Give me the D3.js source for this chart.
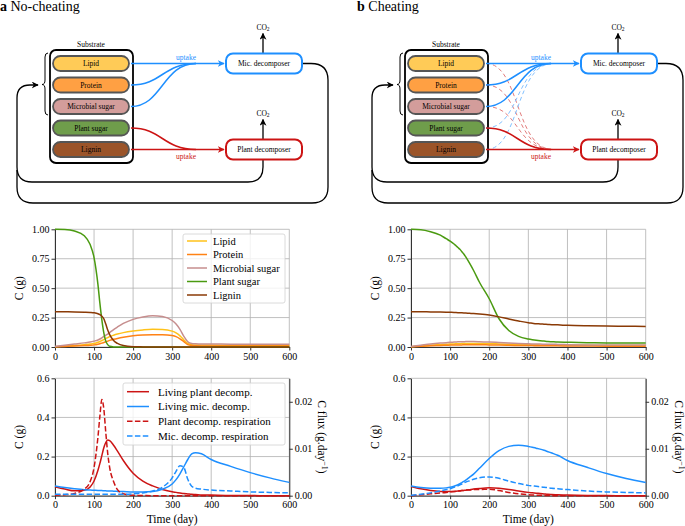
<!DOCTYPE html>
<html>
<head>
<meta charset="utf-8">
<script src="https://cdn.jsdelivr.net/npm/d3@7"></script>
<style>
  body { margin: 0; background: #fff; }
  svg { display: block; }
  text { font-family: "Liberation Serif", "DejaVu Serif", serif; }
</style>
</head>
<body>
<div id="chart"></div>
<script>
// ---- data ----
const days = [0, 25, 50, 75, 90, 100, 110, 115, 120, 125, 130, 135, 140, 150, 160, 175,
  200, 225, 250, 275, 300, 310, 320, 330, 340, 350, 360, 375, 400, 450, 500, 550, 600];

const substrateNames = ['Lipid', 'Protein', 'Microbial sugar', 'Plant sugar', 'Lignin'];
const substrateFills = ['#ffcb57', '#ffa043', '#d39d9b', '#6f9d4b', '#9b5429'];
const substrateLineColors = ['#ffc21a', '#ff8214', '#c68e8e', '#4a9a10', '#8a3a06'];

// panel a (no-cheating) substrate stocks, C (g)
const lipidA = [0.003, 0.008, 0.013, 0.020, 0.025, 0.030, 0.040, 0.047, 0.055, 0.063, 0.072, 0.080, 0.088, 0.100, 0.110, 0.122,
  0.136, 0.145, 0.150, 0.149, 0.135, 0.120, 0.095, 0.060, 0.030, 0.020, 0.017, 0.016, 0.016, 0.015, 0.015, 0.015, 0.015];
const proteinA = [0.002, 0.005, 0.008, 0.012, 0.015, 0.018, 0.024, 0.028, 0.033, 0.038, 0.044, 0.050, 0.056, 0.065, 0.073, 0.083,
  0.095, 0.102, 0.105, 0.105, 0.097, 0.088, 0.070, 0.045, 0.020, 0.012, 0.010, 0.009, 0.009, 0.008, 0.008, 0.008, 0.008];
const micSugarA = [0.005, 0.015, 0.025, 0.035, 0.042, 0.050, 0.060, 0.068, 0.078, 0.090, 0.100, 0.110, 0.122, 0.148, 0.170, 0.200,
  0.235, 0.255, 0.265, 0.260, 0.225, 0.195, 0.150, 0.090, 0.045, 0.030, 0.027, 0.025, 0.025, 0.024, 0.024, 0.024, 0.024];
const plantSugarA = [1.000, 0.998, 0.985, 0.945, 0.870, 0.760, 0.530, 0.370, 0.230, 0.120, 0.050, 0.020, 0.006, 0.001, 0, 0,
  0, 0, 0, 0, 0, 0, 0, 0, 0, 0, 0, 0, 0, 0, 0, 0, 0];
const ligninA = [0.300, 0.299, 0.298, 0.296, 0.294, 0.291, 0.283, 0.275, 0.262, 0.240, 0.195, 0.145, 0.105, 0.055, 0.030, 0.012,
  0.003, 0.001, 0, 0, 0, 0, 0, 0, 0, 0, 0, 0, 0, 0, 0, 0, 0];

// panel b (cheating) substrate stocks, C (g)
const lipidB = [0.003, 0.009, 0.015, 0.020, 0.023, 0.025, 0.026, 0.027, 0.028, 0.028, 0.029, 0.029, 0.030, 0.030, 0.030, 0.029,
  0.028, 0.026, 0.024, 0.022, 0.020, 0.019, 0.019, 0.018, 0.018, 0.017, 0.017, 0.016, 0.015, 0.014, 0.013, 0.012, 0.012];
const proteinB = [0.002, 0.006, 0.010, 0.013, 0.015, 0.016, 0.017, 0.017, 0.018, 0.018, 0.018, 0.019, 0.019, 0.019, 0.019, 0.019,
  0.018, 0.017, 0.015, 0.013, 0.012, 0.012, 0.011, 0.011, 0.011, 0.010, 0.010, 0.010, 0.009, 0.008, 0.007, 0.007, 0.006];
const micSugarB = [0.005, 0.015, 0.025, 0.033, 0.037, 0.040, 0.042, 0.043, 0.044, 0.044, 0.045, 0.045, 0.046, 0.046, 0.046, 0.045,
  0.042, 0.038, 0.034, 0.030, 0.027, 0.026, 0.025, 0.025, 0.024, 0.023, 0.023, 0.022, 0.020, 0.018, 0.017, 0.016, 0.016];
const plantSugarB = [1.000, 0.997, 0.980, 0.950, 0.920, 0.900, 0.875, 0.860, 0.845, 0.830, 0.810, 0.790, 0.765, 0.710, 0.650, 0.550,
  0.410, 0.240, 0.140, 0.090, 0.068, 0.062, 0.057, 0.053, 0.050, 0.047, 0.045, 0.042, 0.040, 0.037, 0.035, 0.034, 0.033];
const ligninB = [0.300, 0.300, 0.298, 0.297, 0.296, 0.295, 0.294, 0.293, 0.292, 0.291, 0.290, 0.289, 0.288, 0.286, 0.284, 0.280,
  0.271, 0.256, 0.238, 0.221, 0.206, 0.202, 0.198, 0.196, 0.194, 0.192, 0.190, 0.188, 0.184, 0.180, 0.178, 0.176, 0.175];

// decomposers: living biomass C (g) on left axis, respiration C flux (g/day) on right axis
const livingPlantA = [0.046, 0.034, 0.025, 0.028, 0.045, 0.075, 0.130, 0.165, 0.205, 0.245, 0.272, 0.285, 0.282, 0.258, 0.228, 0.180,
  0.115, 0.075, 0.050, 0.032, 0.020, 0.017, 0.014, 0.011, 0.009, 0.007, 0.006, 0.004, 0.003, 0.001, 0.0005, 0.0002, 0];
const livingMicA = [0.050, 0.042, 0.036, 0.031, 0.029, 0.028, 0.027, 0.026, 0.026, 0.025, 0.025, 0.024, 0.024, 0.023, 0.022, 0.021,
  0.019, 0.019, 0.021, 0.033, 0.060, 0.082, 0.112, 0.148, 0.185, 0.214, 0.220, 0.214, 0.185, 0.150, 0.118, 0.091, 0.068];
const plantRespA = [0.0001, 0.0002, 0.0005, 0.0014, 0.0030, 0.0060, 0.0125, 0.0170, 0.0205, 0.0185, 0.0135, 0.0090, 0.0060, 0.0030, 0.0013, 0.0004,
  0.0001, 0.00005, 0, 0, 0, 0, 0, 0, 0, 0, 0, 0, 0, 0, 0, 0, 0];
const micRespA = [0.0003, 0.0003, 0.0003, 0.0003, 0.0003, 0.0003, 0.0003, 0.0003, 0.0003, 0.0003, 0.0003, 0.0003, 0.0003, 0.0003, 0.0003, 0.0003,
  0.0004, 0.0006, 0.0010, 0.0018, 0.0038, 0.0052, 0.0064, 0.0060, 0.0035, 0.0020, 0.0016, 0.0014, 0.0012, 0.0010, 0.0008, 0.0007, 0.0006];

const livingPlantB = [0.047, 0.035, 0.027, 0.022, 0.021, 0.021, 0.022, 0.023, 0.024, 0.025, 0.026, 0.027, 0.028, 0.031, 0.034, 0.037,
  0.040, 0.038, 0.032, 0.024, 0.017, 0.015, 0.013, 0.011, 0.009, 0.007, 0.006, 0.005, 0.003, 0.001, 0.0005, 0.0002, 0];
const livingMicB = [0.050, 0.042, 0.038, 0.038, 0.040, 0.043, 0.048, 0.052, 0.056, 0.061, 0.067, 0.073, 0.080, 0.095, 0.110, 0.140,
  0.190, 0.230, 0.252, 0.258, 0.252, 0.248, 0.243, 0.238, 0.232, 0.225, 0.218, 0.207, 0.180, 0.145, 0.113, 0.088, 0.068];
const plantRespB = [0, 0.0002, 0.0004, 0.0006, 0.0007, 0.0008, 0.0009, 0.0009, 0.0010, 0.0010, 0.0011, 0.0011, 0.0012, 0.0012, 0.0013, 0.0013,
  0.0014, 0.0011, 0.0007, 0.0004, 0.0002, 0.00015, 0.0001, 0.0001, 0.00005, 0.00005, 0, 0, 0, 0, 0, 0, 0];
const micRespB = [0.0001, 0.0003, 0.0006, 0.0010, 0.0013, 0.0015, 0.0018, 0.0019, 0.0021, 0.0023, 0.0025, 0.0027, 0.0029, 0.0032, 0.0035, 0.0038,
  0.0040, 0.0037, 0.0031, 0.0026, 0.0022, 0.0021, 0.0020, 0.0019, 0.0018, 0.0017, 0.0016, 0.0015, 0.0013, 0.0010, 0.0008, 0.0007, 0.0006];

const decompNames = ['Living plant decomp.', 'Living mic. decomp.', 'Plant decomp. respiration', 'Mic. decomp. respiration'];

const dayTicks = [0, 100, 200, 300, 400, 500, 600];
const stockTicks = [0, 0.25, 0.5, 0.75, 1.0];
const biomassTicks = [0, 0.2, 0.4, 0.6];
const fluxTicks = [0, 0.01, 0.02];

// ---- setup ----
const RED = '#cc1414';
const BLUE = '#1e8fff';
const FONT = '"Liberation Serif", "DejaVu Serif", serif';

const svg = d3.select('#chart').append('svg')
  .attr('width', 685)
  .attr('height', 526);

const defs = svg.append('defs');
function marker(id, color) {
  defs.append('marker')
    .attr('id', id)
    .attr('viewBox', '0 0 10 10')
    .attr('refX', 9).attr('refY', 5)
    .attr('markerWidth', 7).attr('markerHeight', 7)
    .attr('markerUnits', 'userSpaceOnUse')
    .attr('orient', 'auto')
    .append('path')
    .attr('d', 'M0,0 L10,5 L0,10 L3,5 Z')
    .attr('fill', color);
}
marker('arrBlue', BLUE);
marker('arrRed', RED);
marker('arrBlack', '#000');

const panels = [
  { dx: 0, left: 55, right: 289.3, letter: 'a', name: 'No-cheating', cheating: false,
    stocks: [lipidA, proteinA, micSugarA, plantSugarA, ligninA],
    decomp: [livingPlantA, livingMicA, plantRespA, micRespA], legend: true },
  { dx: 355, left: 411, right: 645.7, letter: 'b', name: 'Cheating', cheating: true,
    stocks: [lipidB, proteinB, micSugarB, plantSugarB, ligninB],
    decomp: [livingPlantB, livingMicB, plantRespB, micRespB], legend: false }
];

// ---- diagram ----
function drawDiagram(p) {
  const g = svg.append('g').attr('transform', `translate(${p.dx},0)`);

  // title
  const titleX = p.dx === 0 ? 0 : 2;
  g.append('text')
    .attr('x', titleX).attr('y', 11)
    .attr('font-size', 14)
    .call(t => t.append('tspan').attr('font-weight', 'bold').text(p.letter))
    .call(t => t.append('tspan').text(' ' + p.name));

  // feedback loops
  const loop = g.append('g').attr('fill', 'none').attr('stroke', '#000').attr('stroke-width', 1.3);
  loop.append('path')
    .attr('d', 'M302,63.5 H311 Q328,63.5 328,80 V187 Q328,203 312,203 H33 Q17,203 17,187 V170');
  loop.append('path')
    .attr('d', 'M263,159.5 V167 Q263,182 248,182 H32 Q17,182 17,167 V98 Q17,85 30,85 H38')
    .attr('marker-end', 'url(#arrBlack)');

  // brace
  g.append('path')
    .attr('d', 'M48,53 Q45,53 45,57 V80 Q45,84.5 42,84.5 Q45,84.5 45,89 V111 Q45,115 48,115')
    .attr('fill', 'none').attr('stroke', '#000').attr('stroke-width', 1);

  // substrate box
  g.append('rect')
    .attr('x', 50).attr('y', 50).attr('width', 83).attr('height', 113).attr('rx', 6)
    .attr('fill', '#fff').attr('stroke', '#000').attr('stroke-width', 1.8);
  g.append('text').attr('x', 91).attr('y', 47).attr('text-anchor', 'middle')
    .attr('font-size', 7.5).text('Substrate');

  const rowY = d3.scalePoint().domain(substrateNames).range([63.5, 149.5]);

  // cheating cross-uptake (dashed, faint)
  if (p.cheating) {
    const cross = g.append('g').attr('fill', 'none').attr('stroke-width', 1)
      .attr('stroke-dasharray', '4,3').attr('opacity', 0.55);
    substrateNames.forEach((s, i) => {
      const y0 = rowY(s);
      const toPlant = i < 3;
      const y1 = toPlant ? rowY('Lignin') : rowY('Lipid');
      cross.append('path')
        .attr('d', `M131,${y0} C165,${y0} 160,${y1} 198,${y1}`)
        .attr('stroke', toPlant ? RED : BLUE);
    });
  }

  // uptake curves
  const up = g.append('g').attr('fill', 'none').attr('stroke-width', 1.5);
  substrateNames.forEach((s, i) => {
    const y0 = rowY(s);
    const mic = i < 3;
    const y1 = mic ? rowY('Lipid') : rowY('Lignin');
    if (y0 === y1) {
      up.append('path').attr('d', `M131,${y0} H224`)
        .attr('stroke', mic ? BLUE : RED)
        .attr('marker-end', mic ? 'url(#arrBlue)' : 'url(#arrRed)');
    } else {
      up.append('path').attr('d', `M131,${y0} C162,${y0} 163,${y1} 196,${y1}`)
        .attr('stroke', mic ? BLUE : RED);
    }
  });
  g.append('text').attr('x', 186).attr('y', 59.5).attr('text-anchor', 'middle')
    .attr('font-size', 7.5).attr('fill', BLUE).text('uptake');
  g.append('text').attr('x', 186).attr('y', 159).attr('text-anchor', 'middle')
    .attr('font-size', 7.5).attr('fill', RED).text('uptake');

  // substrate pills
  const pill = g.append('g').selectAll('g').data(substrateNames).join('g')
    .attr('transform', d => `translate(53,${rowY(d) - 7.5})`);
  pill.append('rect')
    .attr('width', 76).attr('height', 15).attr('rx', 7.5)
    .attr('fill', (d, i) => substrateFills[i])
    .attr('stroke', '#555').attr('stroke-width', 1.8);
  pill.append('text')
    .attr('x', 38).attr('y', 10.3).attr('text-anchor', 'middle')
    .attr('font-size', 7.5).text(d => d);

  // decomposer boxes
  const boxes = [
    { label: 'Mic. decomposer', y: 53.5, color: BLUE },
    { label: 'Plant decomposer', y: 139.5, color: RED }
  ];
  boxes.forEach(b => {
    g.append('line').attr('x1', 263).attr('x2', 263).attr('y1', b.y).attr('y2', b.y - 20)
      .attr('stroke', '#000').attr('stroke-width', 1.3).attr('marker-end', 'url(#arrBlack)');
    g.append('text').attr('x', 263).attr('y', b.y - 24).attr('text-anchor', 'middle')
      .attr('font-size', 7.5)
      .call(t => t.append('tspan').text('CO'))
      .call(t => t.append('tspan').attr('font-size', 5.5).attr('dy', 1.5).text('2'));
    g.append('rect')
      .attr('x', 226).attr('y', b.y).attr('width', 76).attr('height', 20).attr('rx', 7)
      .attr('fill', '#fff').attr('stroke', b.color).attr('stroke-width', 2);
    g.append('text').attr('x', 264).attr('y', b.y + 12.8).attr('text-anchor', 'middle')
      .attr('font-size', 7.5).text(b.label);
  });
}

// ---- axis helpers ----
function styleAxis(a) {
  a.attr('font-family', FONT).attr('font-size', 10);
  a.selectAll('.domain').attr('stroke', '#333');
  a.selectAll('.tick line').attr('stroke', '#333');
  a.selectAll('.tick text').attr('fill', '#000');
}

function grid(g, x, y, yTicks) {
  const gg = g.append('g').attr('stroke', '#b0b0b0').attr('stroke-width', 0.8);
  gg.selectAll('.gx').data(dayTicks).join('line')
    .attr('x1', d => x(d)).attr('x2', d => x(d))
    .attr('y1', y.range()[0]).attr('y2', y.range()[1]);
  gg.selectAll('.gy').data(yTicks).join('line')
    .attr('y1', d => y(d)).attr('y2', d => y(d))
    .attr('x1', x.range()[0]).attr('x2', x.range()[1]);
}

// ---- substrate stock chart ----
function drawStocks(p) {
  const x = d3.scaleLinear().domain([0, 600]).range([p.left, p.right]);
  const y = d3.scaleLinear().domain([0, 1]).range([347, 229.3]);
  const g = svg.append('g');
  grid(g, x, y, stockTicks);

  g.append('g').attr('transform', `translate(0,${y(0)})`)
    .call(d3.axisBottom(x).tickValues(dayTicks).tickSize(3.5).tickSizeOuter(0).tickPadding(2))
    .call(styleAxis);
  g.append('g').attr('transform', `translate(${x(0)},0)`)
    .call(d3.axisLeft(y).tickValues(stockTicks).tickFormat(d3.format('.2f')).tickSize(3.5).tickSizeOuter(0).tickPadding(2))
    .call(styleAxis);

  const line = d3.line().x((d, i) => x(days[i])).y(d => y(d)).curve(d3.curveMonotoneX);
  p.stocks.forEach((s, i) => {
    g.append('path').datum(s).attr('d', line)
      .attr('fill', 'none').attr('stroke', substrateLineColors[i]).attr('stroke-width', 1.5);
  });

  g.append('text')
    .attr('transform', `translate(${p.left - 32},${(y(0) + y(1)) / 2}) rotate(-90)`)
    .attr('text-anchor', 'middle').attr('font-size', 11.5).text('C (g)');

  if (p.legend) {
    const lg = g.append('g').attr('transform', 'translate(183,234)');
    lg.append('rect').attr('width', 102).attr('height', 69).attr('rx', 2)
      .attr('fill', '#fff').attr('fill-opacity', 0.8).attr('stroke', '#d0d0d0').attr('stroke-width', 0.8);
    const row = lg.selectAll('g').data(substrateNames).join('g')
      .attr('transform', (d, i) => `translate(0,${7 + i * 13.5})`);
    row.append('line').attr('x1', 4).attr('x2', 24)
      .attr('stroke', (d, i) => substrateLineColors[i]).attr('stroke-width', 1.5);
    row.append('text').attr('x', 30).attr('y', 3.5).attr('font-size', 10.5).text(d => d);
  }
}

// ---- decomposer chart ----
function drawDecomp(p) {
  const x = d3.scaleLinear().domain([0, 600]).range([p.left, p.right]);
  const y = d3.scaleLinear().domain([0, 0.6]).range([495.7, 378.3]);
  const yR = d3.scaleLinear().domain([0, 0.025]).range([495.7, 378.3]);
  const g = svg.append('g');
  grid(g, x, y, biomassTicks);

  g.append('g').attr('transform', `translate(0,${y(0)})`)
    .call(d3.axisBottom(x).tickValues(dayTicks).tickSize(3.5).tickSizeOuter(0).tickPadding(2))
    .call(styleAxis);
  g.append('g').attr('transform', `translate(${x(0)},0)`)
    .call(d3.axisLeft(y).tickValues(biomassTicks).tickFormat(d3.format('.1f')).tickSize(3.5).tickSizeOuter(0).tickPadding(2))
    .call(styleAxis);
  g.append('g').attr('transform', `translate(${x(600)},0)`)
    .call(d3.axisRight(yR).tickValues(fluxTicks).tickFormat(d3.format('.2f')).tickSize(3.5).tickSizeOuter(0).tickPadding(2))
    .call(styleAxis);

  const lineL = d3.line().x((d, i) => x(days[i])).y(d => y(d)).curve(d3.curveMonotoneX);
  const lineR = d3.line().x((d, i) => x(days[i])).y(d => yR(d)).curve(d3.curveMonotoneX);
  const styles = [
    { color: RED, dash: null, line: lineL },
    { color: BLUE, dash: null, line: lineL },
    { color: RED, dash: '5.5,2.4', line: lineR },
    { color: BLUE, dash: '5.5,2.4', line: lineR }
  ];
  p.decomp.forEach((s, i) => {
    g.append('path').datum(s).attr('d', styles[i].line)
      .attr('fill', 'none').attr('stroke', styles[i].color).attr('stroke-width', 1.5)
      .attr('stroke-dasharray', styles[i].dash);
  });

  g.append('text')
    .attr('transform', `translate(${p.left - 32},${(y(0) + y(0.6)) / 2}) rotate(-90)`)
    .attr('text-anchor', 'middle').attr('font-size', 11.5).text('C (g)');
  g.append('text')
    .attr('transform', `translate(${p.right + 29},${(y(0) + y(0.6)) / 2}) rotate(90)`)
    .attr('text-anchor', 'middle').attr('font-size', 11.5)
    .call(t => t.append('tspan').text('C flux (g.day'))
    .call(t => t.append('tspan').attr('font-size', 8).attr('dy', -4).text('−1'))
    .call(t => t.append('tspan').attr('dy', 4).text(')'));
  g.append('text')
    .attr('x', (p.left + p.right) / 2).attr('y', 523)
    .attr('text-anchor', 'middle').attr('font-size', 11.5).text('Time (day)');

  if (p.legend) {
    const lg = g.append('g').attr('transform', 'translate(123,383)');
    lg.append('rect').attr('width', 162).attr('height', 62).attr('rx', 2)
      .attr('fill', '#fff').attr('fill-opacity', 0.8).attr('stroke', '#d0d0d0').attr('stroke-width', 0.8);
    const row = lg.selectAll('g').data(decompNames).join('g')
      .attr('transform', (d, i) => `translate(0,${8.7 + i * 14.8})`);
    row.append('line').attr('x1', 4).attr('x2', 26)
      .attr('stroke', (d, i) => styles[i].color).attr('stroke-width', 1.5)
      .attr('stroke-dasharray', (d, i) => styles[i].dash);
    row.append('text').attr('x', 35).attr('y', 3.8).attr('font-size', 11).text(d => d);
  }
}

panels.forEach(p => {
  drawDiagram(p);
  drawStocks(p);
  drawDecomp(p);
});
</script>
</body>
</html>
